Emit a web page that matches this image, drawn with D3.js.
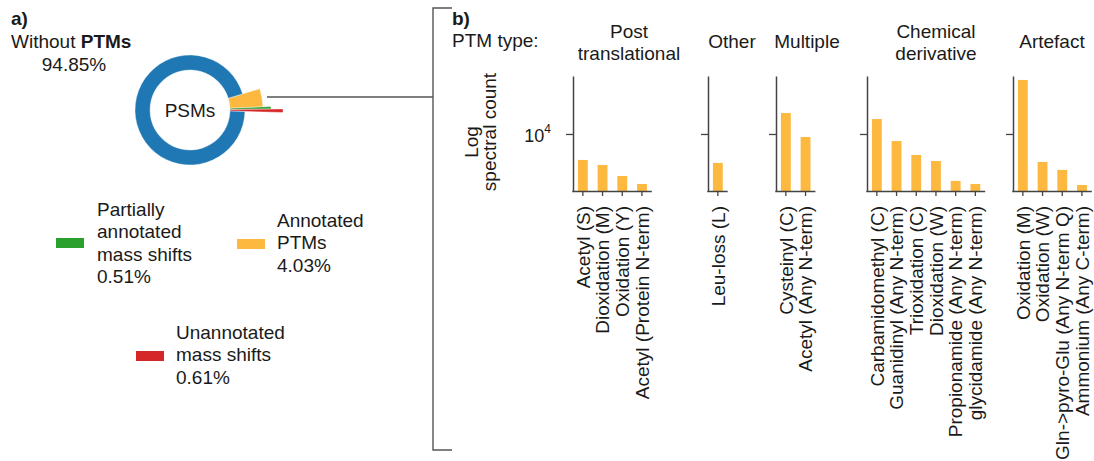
<!DOCTYPE html>
<html>
<head>
<meta charset="utf-8">
<script src="https://cdn.jsdelivr.net/npm/d3@7"></script>
<style>
  html, body { margin: 0; padding: 0; background: #fff; }
  svg { display: block; font-family: "Liberation Sans", Arial, sans-serif; }
  text { fill: #1a1a1a; }
</style>
</head>
<body>
<svg id="chart" width="1094" height="461"></svg>
<script>
// ---- Panel a: share of PSMs ----
const pieLabels = ["Annotated PTMs", "Partially annotated mass shifts", "Unannotated mass shifts", "Without PTMs"];
const piePercents = [4.03, 0.51, 0.61, 94.85];

// ---- Panel b: spectral counts per PTM, grouped by PTM type ----
const groupTitles = [["Post", "translational"], ["Other"], ["Multiple"], ["Chemical", "derivative"], ["Artefact"]];

const postCats = ["Acetyl (S)", "Dioxidation (M)", "Oxidation (Y)", "Acetyl (Protein N-term)"];
const postCounts = [5500, 4900, 3800, 3160];

const otherCats = ["Leu-loss (L)"];
const otherCounts = [5130];

const multipleCats = ["Cysteinyl (C)", "Acetyl (Any N-term)"];
const multipleCounts = [16200, 9330];

const chemCats = ["Carbamidomethyl (C)", "Guanidinyl (Any N-term)", "Trioxidation (C)", "Dioxidation (W)", "Propionamide (Any N-term)", "glycidamide (Any N-term)"];
const chemCounts = [14100, 8500, 6170, 5370, 3390, 3160];

const artefactCats = ["Oxidation (M)", "Oxidation (W)", "Gln->pyro-Glu (Any N-term Q)", "Ammonium (Any C-term)"];
const artefactCounts = [34700, 5250, 4370, 3090];

const yTickValues = [1e4];

// ---- styling / layout ----
const FONT = 19;
const AXIS = "#444";
const sliceColors = ["#fdb840", "#2ca02c", "#d62728", "#1f77b4"];
const sliceOuter = [73, 81, 93, 55];
const barColor = "#fdb840";

const svg = d3.select("#chart");

// ================= Panel a =================
svg.append("text").attr("x", 11).attr("y", 25).attr("font-size", FONT).attr("font-weight", "bold").text("a)");
const wo = svg.append("text").attr("x", 11).attr("y", 48).attr("font-size", FONT);
wo.append("tspan").text("Without ");
wo.append("tspan").attr("font-weight", "bold").text("PTMs");
svg.append("text").attr("x", 74).attr("y", 71).attr("font-size", FONT).attr("text-anchor", "middle")
  .text(piePercents[3].toFixed(2) + "%");

const cx = 190, cy = 110, inner = 40;
const pie = d3.pie().sort(null).value(d => d)
  .startAngle(73 / 180 * Math.PI).endAngle(73 / 180 * Math.PI + 2 * Math.PI);
const arcs = pie(piePercents);
const donut = svg.append("g").attr("transform", `translate(${cx},${cy})`);
donut.selectAll("path").data(arcs).join("path")
  .attr("d", (d, i) => d3.arc().innerRadius(inner).outerRadius(sliceOuter[i])(d))
  .attr("fill", (d, i) => sliceColors[i])
  .attr("stroke", "#fff").attr("stroke-width", 0.4);
donut.append("text").attr("text-anchor", "middle").attr("y", 7).attr("font-size", FONT).text("PSMs");

// legend
const legendItems = [
  { idx: 1, lines: ["Partially", "annotated", "mass shifts"], sx: 56, sy: 238, tx: 97, ty: 216 },
  { idx: 0, lines: ["Annotated", "PTMs"], sx: 237, sy: 239, tx: 277, ty: 227 },
  { idx: 2, lines: ["Unannotated", "mass shifts"], sx: 136, sy: 351, tx: 176, ty: 339 }
];
legendItems.forEach(it => {
  svg.append("rect").attr("x", it.sx).attr("y", it.sy).attr("width", 28).attr("height", 10)
    .attr("fill", sliceColors[it.idx]);
  const t = svg.append("text").attr("x", it.tx).attr("y", it.ty).attr("font-size", FONT);
  it.lines.concat([piePercents[it.idx].toFixed(2) + "%"]).forEach((ln, k) => {
    t.append("tspan").attr("x", it.tx).attr("dy", k === 0 ? 0 : 22.4).text(ln);
  });
});

// connector and bracket
svg.append("line").attr("x1", 267).attr("x2", 433).attr("y1", 97).attr("y2", 97)
  .attr("stroke", "#555").attr("stroke-width", 1.4);
svg.append("path").attr("d", "M452,8 H433 V450 H452").attr("fill", "none")
  .attr("stroke", "#555").attr("stroke-width", 1.4);

// ================= Panel b =================
svg.append("text").attr("x", 452).attr("y", 25).attr("font-size", FONT).attr("font-weight", "bold").text("b)");
svg.append("text").attr("x", 452).attr("y", 47).attr("font-size", FONT).text("PTM type:");

const yTop = 76, yBottom = 191;
const y = d3.scaleLog().domain([2690, 38000]).range([yBottom, yTop]);

const facets = [
  { cats: postCats, vals: postCounts, x0: 573, titleX: 629 },
  { cats: otherCats, vals: otherCounts, x0: 708, titleX: 732 },
  { cats: multipleCats, vals: multipleCounts, x0: 776, titleX: 807 },
  { cats: chemCats, vals: chemCounts, x0: 867, titleX: 936 },
  { cats: artefactCats, vals: artefactCounts, x0: 1013, titleX: 1052 }
];
const step = 19.7;

facets.forEach((f, fi) => {
  const g = svg.append("g");
  // title
  const lines = groupTitles[fi];
  const title = g.append("text").attr("font-size", FONT).attr("text-anchor", "middle");
  lines.forEach((ln, k) => {
    title.append("tspan").attr("x", f.titleX)
      .attr("y", lines.length === 2 ? 38 + k * 22 : 48).text(ln);
  });

  const x = d3.scaleBand().domain(f.cats)
    .range([f.x0, f.x0 + f.cats.length * step])
    .paddingInner(0.5).paddingOuter(0.25);

  g.selectAll("rect.bar").data(f.cats).join("rect")
    .attr("class", "bar")
    .attr("x", d => x(d))
    .attr("width", x.bandwidth())
    .attr("y", (d, i) => y(f.vals[i]))
    .attr("height", (d, i) => yBottom - y(f.vals[i]))
    .attr("fill", barColor);

  // y axis
  const ya = g.append("g").attr("transform", `translate(${f.x0},0)`)
    .call(d3.axisLeft(y).tickValues(yTickValues).tickFormat("").tickSize(7).tickSizeOuter(0));
  ya.select(".domain").attr("stroke", AXIS).attr("stroke-width", 1.5);
  ya.selectAll(".tick line").attr("stroke", AXIS).attr("stroke-width", 1.3);

  // x axis
  const xa = g.append("g").attr("transform", `translate(0,${yBottom})`)
    .call(d3.axisBottom(x).tickSize(5).tickSizeOuter(0));
  xa.select(".domain").attr("stroke", AXIS).attr("stroke-width", 1.5)
    .attr("d", `M${f.x0 - 0.75},0.5H${f.x0 + f.cats.length * step}`);
  xa.selectAll(".tick line").attr("stroke", AXIS).attr("stroke-width", 1.3);
  xa.selectAll(".tick text")
    .attr("font-size", FONT)
    .attr("font-family", "Liberation Sans, Arial, sans-serif")
    .attr("fill", "#1a1a1a")
    .attr("text-anchor", "end")
    .attr("transform", "rotate(-90)")
    .attr("x", -15).attr("y", 0).attr("dy", "0.35em");

  if (fi === 0) {
    yTickValues.forEach(v => {
      const exp = Math.round(Math.log10(v));
      const lab = g.append("text").attr("font-size", 18).attr("text-anchor", "end")
        .attr("x", 551).attr("y", y(v) + 8);
      lab.append("tspan").text("10");
      lab.append("tspan").attr("font-size", 12).attr("dy", -9).text(exp);
    });
    g.append("text").attr("font-size", FONT).attr("text-anchor", "middle")
      .attr("transform", "translate(478,142) rotate(-90)").text("Log");
    g.append("text").attr("font-size", FONT).attr("text-anchor", "middle")
      .attr("transform", "translate(496,132) rotate(-90)").text("spectral count");
  }
});
</script>
</body>
</html>
